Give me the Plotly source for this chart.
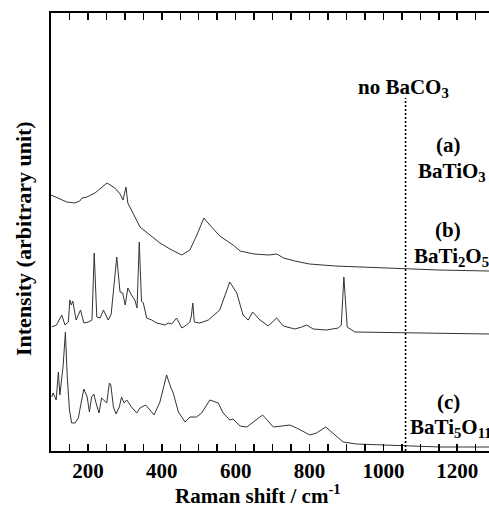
import plotly.graph_objects as go

# Raman shift (cm-1) and intensity (arbitrary units, height above the x axis)
a_x = [100, 143, 165, 178, 184, 197, 219, 252, 273, 287, 295, 303, 308, 341, 395, 422, 454, 476,
       495, 514, 530, 557, 593, 612, 650, 690, 711, 730, 760, 800, 870, 1000, 1060, 1150, 1286]
a_y = [256, 249, 248, 250, 253, 254, 258, 268, 263, 257, 251, 264, 248, 224, 208, 202, 196, 201,
       216, 233, 226, 215, 206, 200, 197, 196, 197, 193, 190, 187, 185, 183, 182, 181, 180]

b_x = [102, 115, 129, 138, 147, 151, 155, 159, 168, 180, 189, 201, 211, 217, 224, 233, 242, 255,
       263, 278, 287, 294, 301, 308, 318, 327, 333, 339, 345, 350, 359, 373, 386, 409, 418, 427,
       440, 454, 467, 476, 480, 484, 488, 503, 526, 557, 584, 603, 620, 634, 646, 666, 688, 711,
       729, 760, 779, 792, 810, 846, 878, 886, 893, 900, 902, 923, 1058, 1286]
b_y = [124, 126, 136, 126, 129, 151, 146, 150, 131, 141, 128, 129, 131, 198, 134, 133, 141, 131,
       137, 194, 159, 158, 146, 163, 156, 151, 143, 209, 150, 148, 133, 131, 128, 126, 128, 127,
       133, 123, 126, 129, 135, 148, 129, 128, 131, 141, 169, 158, 136, 131, 139, 131, 125, 133,
       125, 122, 124, 126, 122, 121, 123, 126, 174, 127, 124, 119, 118, 117]

c_x = [102, 106, 114, 120, 124, 131, 133, 139, 144, 150, 156, 165, 174, 183, 189, 198, 204, 210,
       216, 222, 230, 237, 243, 251, 258, 262, 269, 276, 285, 291, 298, 305, 318, 332, 341, 356,
       366, 379, 395, 413, 424, 431, 445, 463, 476, 494, 508, 530, 553, 566, 584, 593, 612, 630,
       673, 702, 747, 765, 801, 819, 844, 869, 891, 927, 999, 1058, 1153, 1286]
c_y = [54, 58, 51, 79, 56, 78, 86, 119, 74, 41, 28, 28, 33, 51, 62, 54, 39, 54,
       57, 48, 38, 53, 51, 48, 68, 66, 44, 37, 44, 54, 48, 51, 44, 38, 43, 46,
       42, 36, 49, 76, 64, 58, 39, 29, 34, 34, 38, 51, 48, 38, 31, 32, 25, 24,
       36, 24, 26, 23, 16, 18, 24, 16, 9, 7, 6, 5, 4, 4]

x_ticks = [200, 400, 600, 800, 1000, 1200]
marker_shift = 1060
marker_top = 353

FONT = "Liberation Serif, Times New Roman, serif"
LINE = "#333333"

fig = go.Figure()
for xs, ys in [(a_x, a_y), (b_x, b_y), (c_x, c_y)]:
    fig.add_trace(go.Scatter(x=xs, y=ys, mode="lines",
                             line=dict(color=LINE, width=1), showlegend=False,
                             hoverinfo="skip"))

fig.add_shape(type="line", x0=marker_shift, x1=marker_shift, y0=0, y1=marker_top,
              xref="x", yref="y", line=dict(color="black", width=1.6, dash="2px,2px"))

W, H = 489, 507
L, T, B = 51, 13, 56
PW, PH = W - L, H - T - B


def px(xp):
    return (xp - L) / PW


def py(yp):
    return (H - B - yp) / PH


def ann(text, xp, yp, xanchor="center", size=21):
    fig.add_annotation(text=text, x=px(xp), y=py(yp), xref="paper", yref="paper",
                       xanchor=xanchor, yanchor="middle", showarrow=False,
                       font=dict(family=FONT, size=size, color="black", weight="bold"))


ann("no BaCO<sub>3</sub>", 403, 88)
ann("(a)", 448, 145)
ann("BaTiO<sub>3</sub>", 416, 172, xanchor="left")
ann("(b)", 448, 230)
ann("BaTi<sub>2</sub>O<sub>5</sub>", 412, 257, xanchor="left")
ann("(c)", 448, 402)
ann("BaTi<sub>5</sub>O<sub>11</sub>", 408, 428, xanchor="left")
ann("Raman shift / cm<sup>-1</sup>", 258, 494, size=21)
fig.add_annotation(text="Intensity (arbitrary unit)", x=px(23), y=py(239),
                   xref="paper", yref="paper", textangle=-90, showarrow=False,
                   xanchor="center", yanchor="middle",
                   font=dict(family=FONT, size=22, color="black", weight="bold"))

fig.update_layout(
    width=W, height=H,
    margin=dict(l=L, r=0, t=T, b=B),
    paper_bgcolor="white", plot_bgcolor="white",
    font=dict(family=FONT, color="black"),
    xaxis=dict(range=[100, 1286], tickvals=x_ticks, ticktext=[str(v) for v in x_ticks],
               ticks="inside", ticklen=7, tickwidth=1.5, tickcolor="black",
               minor=dict(dtick=50, tick0=0, ticks="inside", ticklen=7, tickwidth=1.5,
                          tickcolor="black", showgrid=False),
               showline=True, linecolor="black", linewidth=2, mirror="ticks",
               showgrid=False, zeroline=False,
               tickfont=dict(family=FONT, size=21, color="black", weight="bold")),
    yaxis=dict(range=[0, 438], showline=True, linecolor="black", linewidth=2,
               showticklabels=False, ticks="", showgrid=False, zeroline=False),
)

fig.write_html("out.html",
               config={"displayModeBar": False, "staticPlot": True},
               post_script="document.body.style.margin='0';"
                           "document.body.style.overflow='hidden';")
